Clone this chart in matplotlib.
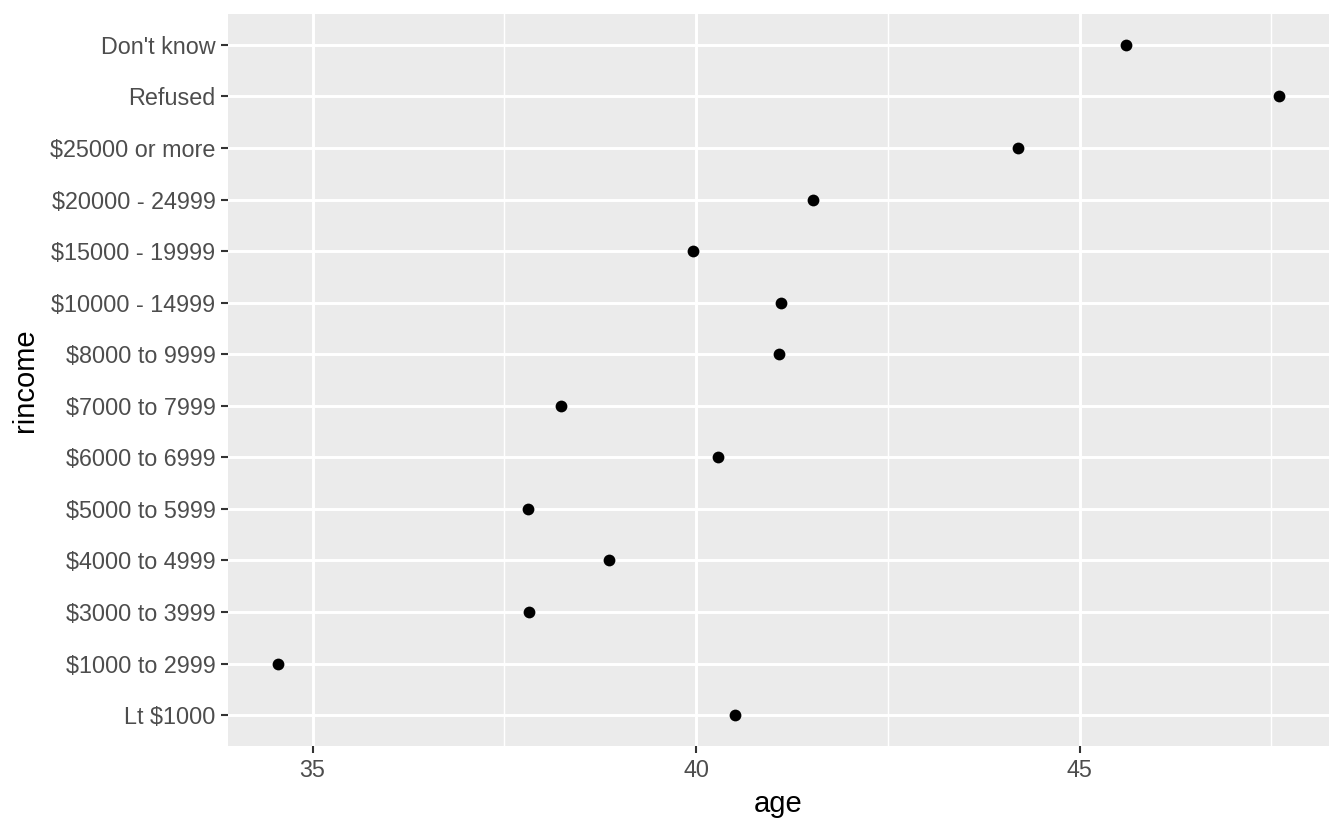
import matplotlib.pyplot as plt
from matplotlib.ticker import MultipleLocator

# categories bottom to top
rincome = ["Lt $1000", "$1000 to 2999", "$3000 to 3999", "$4000 to 4999",
           "$5000 to 5999", "$6000 to 6999", "$7000 to 7999", "$8000 to 9999",
           "$10000 - 14999", "$15000 - 19999", "$20000 - 24999",
           "$25000 or more", "Refused", "Don't know"]
age = [40.51, 34.55, 37.82, 38.87, 37.81, 40.29, 38.24, 41.08,
       41.11, 39.96, 41.53, 44.20, 47.60, 45.60]

plt.rcParams['font.family'] = ['Liberation Sans', 'DejaVu Sans']

fig = plt.figure(figsize=(13.44, 8.30), dpi=100)
ax = fig.add_axes([228 / 1344, 84 / 830, (1329 - 228) / 1344, (746 - 14) / 830])
ax.set_facecolor('#EBEBEB')

ypos = list(range(len(rincome)))
ax.scatter(age, ypos, s=72, color='black', zorder=3, linewidths=0)

span = max(age) - min(age)
ax.set_xlim(min(age) - 0.05 * span, max(age) + 0.05 * span)
ax.set_ylim(-0.6, len(rincome) - 1 + 0.6)

ax.xaxis.set_major_locator(MultipleLocator(5))
ax.xaxis.set_minor_locator(MultipleLocator(2.5))
ax.set_yticks(ypos)
ax.set_yticklabels(rincome)

ax.grid(which='major', color='white', linewidth=2.1)
ax.grid(which='minor', axis='x', color='white', linewidth=1.05)
ax.set_axisbelow(True)

for s in ax.spines.values():
    s.set_visible(False)

ax.tick_params(which='major', length=5, width=1.5, color='#333333',
               labelsize=16.8, labelcolor='#4D4D4D', pad=4)
ax.tick_params(which='minor', length=0)

ax.set_xlabel('age', fontsize=21, color='black', labelpad=6)
ax.set_ylabel('rincome', fontsize=21, color='black', labelpad=8)

fig.savefig('out.png', dpi=100, facecolor='white')
